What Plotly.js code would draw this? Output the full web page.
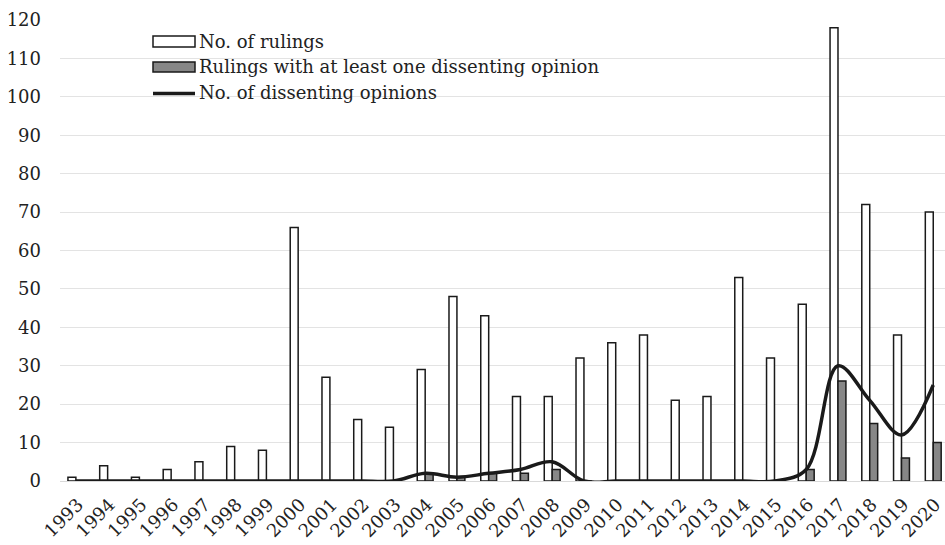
<!DOCTYPE html>
<html><head><meta charset="utf-8">
<script src="https://cdn.plot.ly/plotly-3.0.1.min.js"></script>
<style>html,body{margin:0;padding:0;background:#fff}#chart{width:945px;height:545px}</style>
</head><body><div id="chart"></div>
<script>
const years = ["1993","1994","1995","1996","1997","1998","1999","2000","2001","2002","2003","2004","2005","2006","2007","2008","2009","2010","2011","2012","2013","2014","2015","2016","2017","2018","2019","2020"];
const rulings = [1,4,1,3,5,9,8,66,27,16,14,29,48,43,22,22,32,36,38,21,22,53,32,46,118,72,38,70];
const dissentRulings = [0,0,0,0,0,0,0,0,0,0,0,2,1,2,2,3,0,0,0,0,0,0,0,3,26,15,6,10];
const dissentOpinions = [0,0,0,0,0,0,0,0,0,0,0,2,1,2,3,5,0,0,0,0,0,0,0,3,30,21,12,25];
const seriesNames = ['No. of rulings','Rulings with at least one dissenting opinion','No. of dissenting opinions'];

const font = "'DejaVu Serif', serif";
const txt = '#222';
const traces = [
  {type:'bar', x:years, y:rulings, name:seriesNames[0],
   marker:{color:'#ffffff', line:{color:'#1a1a1a', width:1.5}}},
  {type:'bar', x:years, y:dissentRulings, name:seriesNames[1],
   marker:{color:'#878787', line:{color:'#1a1a1a', width:1.5}}},
  {type:'scatter', mode:'lines', x:years, y:dissentOpinions, name:seriesNames[2],
   line:{color:'#1a1a1a', width:3.5, shape:'spline', smoothing:1}}
];

// custom legend (plot area: x 60..945, y 20..481 px)
const px = v => (v-60)/885, py = v => (481-v)/461;
const shapes = [
  {type:'rect', xref:'paper', yref:'paper', x0:px(153), x1:px(195), y0:py(47), y1:py(36),
   fillcolor:'#ffffff', line:{color:'#1a1a1a', width:1.5}},
  {type:'rect', xref:'paper', yref:'paper', x0:px(153), x1:px(195), y0:py(72), y1:py(62),
   fillcolor:'#878787', line:{color:'#1a1a1a', width:1.5}},
  {type:'line', xref:'paper', yref:'paper', x0:px(153), x1:px(195), y0:py(93.5), y1:py(93.5),
   line:{color:'#1a1a1a', width:3.5}}
];
const rowsY = [41.5, 67, 93];
const annotations = seriesNames.map((n,i)=>({
  xref:'paper', yref:'paper', x:px(197), y:py(rowsY[i]), xanchor:'left', yanchor:'middle',
  text:n, showarrow:false, font:{family:font, size:18, color:txt}
}));

const layout = {
  width:945, height:545,
  margin:{l:60, r:0, t:20, b:64},
  paper_bgcolor:'#fff', plot_bgcolor:'#fff',
  font:{family:font, size:18, color:txt},
  barmode:'group', bargap:0.5, bargroupgap:0,
  showlegend:false,
  shapes:shapes, annotations:annotations,
  xaxis:{type:'category', range:[-0.5, 27.37], tickangle:-45, showgrid:false,
         showline:true, linecolor:'#d9d9d9', linewidth:1, ticks:'',
         ticklabelstandoff:5, ticklabelshift:2,
         tickfont:{family:font, size:18, color:txt}},
  yaxis:{range:[0,120], dtick:10, showgrid:true, gridcolor:'#e3e3e3', gridwidth:1,
         zeroline:false, showline:false, ticks:'', ticklabelstandoff:18,
         tickfont:{family:font, size:18, color:txt}}
};
Plotly.newPlot('chart', traces, layout, {staticPlot:true, displayModeBar:false});
</script></body></html>
